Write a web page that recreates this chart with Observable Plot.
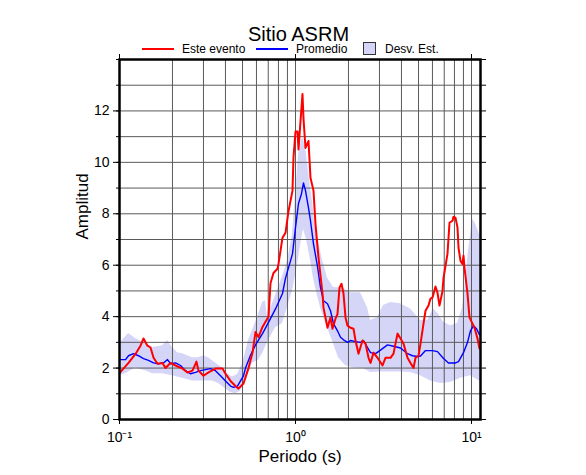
<!DOCTYPE html>
<html><head><meta charset="utf-8">
<script src="https://cdn.jsdelivr.net/npm/d3@7"></script>
<script src="https://cdn.jsdelivr.net/npm/@observablehq/plot@0.6"></script>
<style>
body{margin:0;background:#fff;font-family:"Liberation Sans",Arial,Helvetica,sans-serif;}
#chart svg{display:block}
</style></head><body>
<div id="chart"></div>
<script>
const title = "Sitio ASRM";
const legendLabels = ["Este evento", "Promedio", "Desv. Est."];
const xLabel = "Periodo (s)";
const yLabel = "Amplitud";
const xTickValues = [0.1, 1, 10];
const xTickLabels = ["10\u207B\u00B9", "10\u2070", "10\u00B9"];
const yTickValues = [0, 2, 4, 6, 8, 10, 12];
const yAllTicks = [0,1,2,3,4,5,6,7,8,9,10,11,12,13,14];
const xGridValues = [0.2,0.3,0.4,0.5,0.6,0.7,0.8,0.9,1,2,3,4,5,6,7,8,9,10];
const yGridValues = [1,2,3,4,5,6,7,8,9,10,11,12,13];

// [periodo (s), amplitud]
const evento = [
[0.100,1.8],[0.1125,2.2],[0.1233,2.55],[0.1316,2.87],[0.1369,3.15],[0.1442,2.87],[0.1500,2.8],[0.1561,2.4],[0.1644,2.17],[0.1755,2.2],
[0.1825,2.0],[0.1949,2.2],[0.2081,2.1],[0.2280,1.98],[0.2434,1.83],[0.2599,1.9],[0.2738,2.25],[0.2811,1.9],[0.3001,1.7],[0.3204,1.83],
[0.3511,1.98],[0.3848,1.98],[0.4003,1.78],[0.4273,1.5],[0.4561,1.3],[0.4743,1.2],[0.5065,1.4],[0.5408,2.0],[0.5698,2.6],[0.5926,3.4],
[0.6163,3.2],[0.6494,3.6],[0.6754,3.8],[0.7024,4.0],[0.7210,5.3],[0.7499,5.7],[0.7902,5.86],[0.8006,6.05],[0.8218,6.56],[0.8436,7.07],
[0.8774,7.26],[0.9125,8.1],[0.9615,8.9],[0.9742,10.2],[1.000,11.2],[1.0265,11.2],[1.0400,10.5],[1.0676,11.6],[1.0958,12.66],[1.1103,11.7],
[1.1397,10.56],[1.1700,10.75],[1.1854,10.83],[1.2167,9.4],[1.2655,8.9],[1.2990,7.6],[1.3510,6.3],[1.4236,4.9],[1.4423,4.35],[1.5199,3.57],
[1.5805,3.97],[1.6225,3.53],[1.6874,3.92],[1.7322,4.1],[1.7783,5.13],[1.8255,5.28],[1.8738,4.9],[1.9236,3.97],[1.9747,3.65],[2.0538,3.57],
[2.1360,3.53],[2.1927,3.07],[2.2804,2.56],[2.4030,3.07],[2.4993,2.95],[2.5994,2.4],[2.6684,2.2],[2.7752,2.6],[2.9245,2.4],[3.1222,2.1],
[3.2462,2.4],[3.4661,2.4],[3.6050,2.56],[3.7988,3.34],[3.9511,3.15],[4.1094,2.95],[4.3288,2.4],[4.5023,2.2],[4.6827,2.0],[4.8070,2.4],
[4.9997,2.48],[5.1324,2.95],[5.3380,3.73],[5.4797,4.23],[5.6975,4.43],[5.8487,4.7],[6.0040,4.74],[6.2445,5.17],[6.4102,4.93],[6.5801,4.43],
[6.8437,5.0],[6.9337,5.5],[7.3058,6.45],[7.4989,7.65],[7.7993,7.73],[7.9019,7.88],[8.1113,7.85],[8.3268,7.46],[8.4362,6.68],[8.6596,6.17],
[8.8895,6.05],[9.0064,6.37],[9.1253,5.9],[9.4907,4.9],[9.7420,3.97],[10.131,3.73],[10.400,3.57],[10.816,3.15],[11.103,2.76]
];

const promedio = [
[0.100,2.33],[0.1082,2.33],[0.1125,2.48],[0.1201,2.56],[0.1282,2.48],[0.1369,2.37],[0.1461,2.3],[0.1561,2.2],[0.1666,2.17],[0.1778,2.2],
[0.1874,2.33],[0.1949,2.17],[0.2081,2.2],[0.2222,2.1],[0.2371,1.9],[0.2532,1.78],[0.2703,1.83],[0.2886,1.9],[0.3081,1.94],[0.3289,1.98],
[0.3511,1.9],[0.3749,1.7],[0.4003,1.5],[0.4273,1.3],[0.4444,1.25],[0.4682,1.3],[0.4870,1.5],[0.5065,1.7],[0.5199,2.0],[0.5551,2.5],
[0.5926,2.9],[0.6494,3.34],[0.7024,3.78],[0.7697,4.3],[0.8436,4.9],[0.8774,5.5],[0.9367,6.17],[0.9615,6.45],[1.000,7.46],[1.0400,8.4],
[1.0816,8.78],[1.1103,9.2],[1.1397,8.9],[1.1854,8.23],[1.2167,7.73],[1.2655,6.83],[1.3335,5.95],[1.3868,5.13],[1.4423,4.62],[1.5199,4.5],
[1.5805,4.23],[1.6438,3.73],[1.7322,3.45],[1.8017,3.2],[1.8738,3.1],[1.9747,3.0],[2.0538,3.07],[2.1927,3.03],[2.3409,3.0],[2.4347,3.07],
[2.5656,2.8],[2.6684,2.6],[2.8488,2.56],[3.0415,2.7],[3.3324,2.9],[3.6050,2.85],[3.9511,2.78],[4.3288,2.56],[4.6218,2.48],[4.9346,2.45],
[5.1324,2.47],[5.4797,2.68],[6.0040,2.68],[6.4102,2.64],[6.9337,2.37],[7.4019,2.2],[8.1113,2.2],[8.4362,2.25],[9.0064,2.6],[9.4907,3.0],
[9.8700,3.45],[10.265,3.65],[10.676,3.53],[11.103,3.3]
];

const desvSup = [
[0.100,2.95],[0.1125,3.34],[0.1233,3.15],[0.1405,2.95],[0.1540,2.8],[0.1755,2.87],[0.1874,3.07],[0.2001,2.8],[0.2136,2.6],[0.2280,2.56],
[0.2434,2.48],[0.2599,2.4],[0.2811,2.4],[0.3001,2.48],[0.3204,2.4],[0.3511,2.2],[0.3848,2.0],[0.4109,1.78],[0.4386,1.65],[0.4682,1.75],
[0.4999,2.17],[0.5408,3.07],[0.6083,3.97],[0.6494,4.55],[0.6754,4.62],[0.6933,3.97],[0.7401,4.5],[0.8006,5.13],[0.8547,5.67],[0.9006,6.17],
[0.9615,7.2],[1.000,8.8],[1.0400,10.3],[1.0958,11.0],[1.1397,10.6],[1.2167,9.0],[1.2490,8.5],[1.2990,7.4],[1.3510,6.9],[1.4236,6.2],
[1.5199,5.5],[1.6438,5.13],[1.8738,5.1],[2.0538,4.93],[2.3409,4.93],[2.5656,4.35],[2.6684,3.85],[2.9245,3.97],[3.1623,4.43],[3.4661,4.55],
[3.9511,4.5],[4.5023,4.3],[4.6827,4.17],[5.1324,3.85],[5.6234,3.85],[6.0830,4.3],[6.4946,4.1],[6.9337,3.78],[7.5976,3.65],[8.3268,3.73],
[8.8895,4.35],[9.2455,5.4],[9.6154,6.56],[10.131,7.8],[10.537,7.6],[11.103,7.2],[11.25,7.1]
];

const desvInf = [
[0.100,1.7],[0.1082,1.78],[0.1233,2.0],[0.1405,1.9],[0.1540,1.78],[0.1755,1.78],[0.2001,1.7],[0.2280,1.6],[0.2599,1.5],[0.2962,1.5],
[0.3376,1.5],[0.3652,1.4],[0.4003,1.2],[0.4273,1.05],[0.4561,1.0],[0.4870,1.1],[0.5199,1.5],[0.5698,2.2],[0.6163,2.3],[0.6494,2.56],
[0.7024,3.07],[0.7697,3.57],[0.8436,3.73],[0.8774,4.1],[0.9615,5.0],[1.0265,6.0],[1.0816,7.0],[1.1103,7.4],[1.1548,7.0],[1.2167,6.2],
[1.2655,5.48],[1.3335,4.8],[1.3868,4.35],[1.5199,3.57],[1.6438,2.95],[1.7550,2.4],[1.9236,2.1],[2.1360,2.0],[2.4347,1.98],[2.6684,1.83],
[3.0415,1.85],[3.4661,1.85],[3.9511,1.85],[4.5023,1.83],[5.1324,1.7],[5.8487,1.5],[6.6667,1.4],[7.5976,1.44],[8.6596,1.6],[9.8700,1.7],
[11.103,1.5],[11.25,1.5]
];

const colEvento = "#ff0000";
const colPromedio = "#0000ff";
const colBanda = "#d5d5f8";
const gridColor = "#5a5a5a";
const font = '"Liberation Sans", Arial, Helvetica, sans-serif';

const px = d => d[0], py = d => d[1];

const chart = Plot.plot({
  width: 586, height: 423,
  marginTop: 7, marginLeft: 119, marginRight: 106, marginBottom: 56,
  x: {type: "log", domain: [0.1, 11.25]},
  y: {domain: [0, 14]},
  style: {fontFamily: font, fontSize: "14px", color: "#000", background: "transparent", overflow: "visible"},
  marks: [
    Plot.areaY(desvSup, {x: px, y: py, fill: colBanda, clip: true}),
    Plot.areaY(desvInf, {x: px, y: py, fill: "#ffffff", clip: true}),
    Plot.ruleX(xGridValues, {stroke: gridColor, strokeWidth: 1}),
    Plot.ruleY(yGridValues, {stroke: gridColor, strokeWidth: 1}),
    Plot.line(promedio, {x: px, y: py, stroke: colPromedio, strokeWidth: 1.4, clip: true}),
    Plot.line(evento, {x: px, y: py, stroke: colEvento, strokeWidth: 2, clip: true}),
    Plot.frame({stroke: "#000", strokeWidth: 2.5}),
    Plot.axisY(yTickValues, {anchor: "left", tickSize: 6, tickPadding: 4, fontSize: 14, label: null, tickFormat: d => String(d)}),
    Plot.axisY(yAllTicks, {anchor: "left", tickSize: 3, tickFormat: () => "", label: null}),
    Plot.axisY(yAllTicks, {anchor: "right", tickSize: 5, tickFormat: () => "", label: null}),
    Plot.axisX(xTickValues, {anchor: "bottom", tickSize: 5, tickPadding: 8, fontSize: 14, label: null,
      tickFormat: d => xTickLabels[xTickValues.indexOf(d)]}),
    Plot.axisX(xTickValues, {anchor: "top", tickSize: 6, tickFormat: () => "", label: null}),
    Plot.text([yLabel], {text: d => d, frameAnchor: "left", dx: -37, rotate: -90, fontSize: 17}),
    Plot.text([xLabel], {text: d => d, frameAnchor: "bottom", dy: 42, fontSize: 17})
  ]
});

// header above the chart: title + legend
const ns = "http://www.w3.org/2000/svg";
const hdr = document.createElementNS(ns, "svg");
hdr.setAttribute("width", 586); hdr.setAttribute("height", 52);
hdr.style.display = "block";
hdr.style.overflow = "visible";
hdr.style.position = "relative";
hdr.style.zIndex = "2";
hdr.setAttribute("font-family", font);
function el(tag, attrs, txt) {
  const e = document.createElementNS(ns, tag);
  for (const k in attrs) e.setAttribute(k, attrs[k]);
  if (txt != null) e.textContent = txt;
  hdr.appendChild(e);
  return e;
}
el("text", {x: 298.5, y: 41, "text-anchor": "middle", "font-size": 20}, title);
el("line", {x1: 142, x2: 174, y1: 49, y2: 49, stroke: colEvento, "stroke-width": 2});
el("text", {x: 182, y: 53.3, "font-size": 12}, legendLabels[0]);
el("line", {x1: 256, x2: 288, y1: 49, y2: 49, stroke: colPromedio, "stroke-width": 2});
el("text", {x: 296, y: 53.3, "font-size": 12}, legendLabels[1]);
el("rect", {x: 363.5, y: 42.5, width: 12, height: 12, fill: colBanda, stroke: "#333", "stroke-width": 1});
el("text", {x: 385, y: 53.3, "font-size": 12}, legendLabels[2]);

const root = document.getElementById("chart");
root.appendChild(hdr);
root.appendChild(chart);
</script>
</body></html>
